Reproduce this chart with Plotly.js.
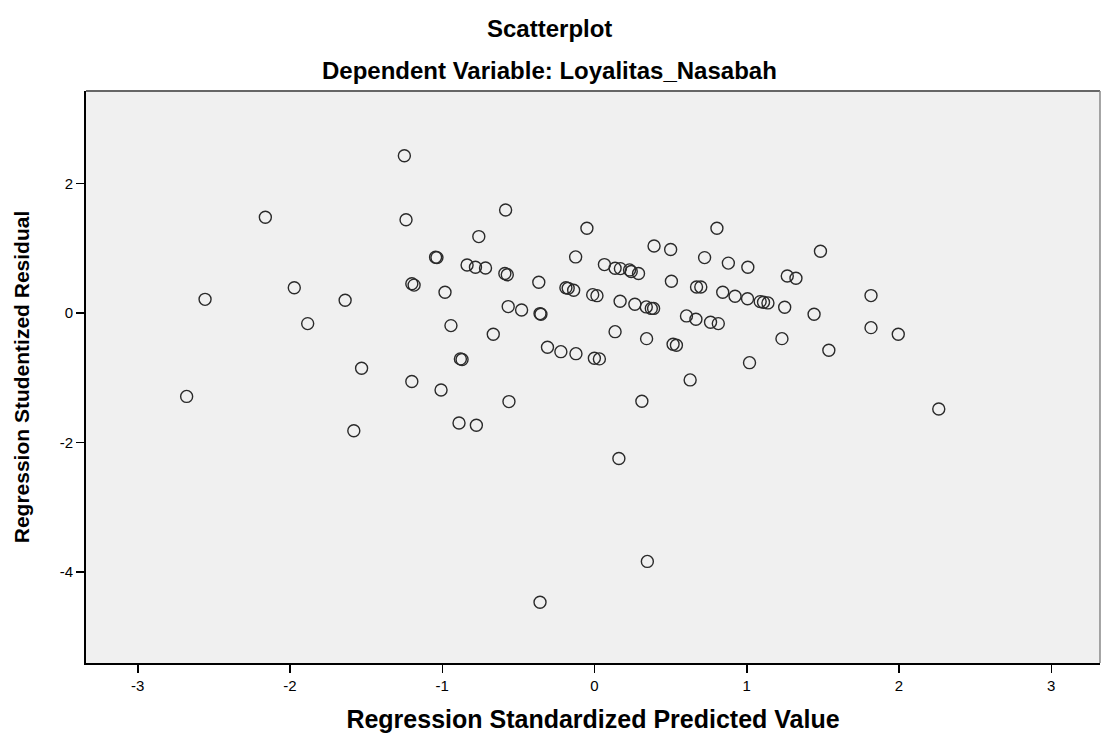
<!DOCTYPE html>
<html>
<head>
<meta charset="utf-8">
<script src="https://cdn.plot.ly/plotly-3.0.1.min.js"></script>
<style>
  html, body { margin: 0; padding: 0; background: #ffffff; }
  #chart { width: 1101px; height: 734px; }
</style>
</head>
<body>
<div id="chart"></div>
<script>
// Regression Standardized Predicted Value
const predicted = [
  -1.249, -2.162, -1.238, -1.044, -1.035, -1.200, -1.185, -0.982, -1.972, -2.558,
  -1.638, -1.884, -1.530, -1.200, -2.679, -1.581, -1.008, -0.584, -0.760, -0.050,
   0.804,  0.391,  0.500, -0.124,  0.723,  0.879,  1.007, -0.837, -0.782, -0.716,
  -0.589, -0.573,  0.065,  0.135,  0.170,  0.230,  0.241,  0.289,  0.505,  0.670,
   0.698,  0.842,  0.923,  1.005,  1.088,  1.110,  1.139, -0.366, -0.188, -0.173,
  -0.137, -0.012,  0.016,  0.168,  0.265,  0.340,  0.373,  0.388, -0.567, -0.479,
  -0.358, -0.352,  0.604,  0.666,  0.762,  0.813, -0.943, -0.665,  0.135,  0.342,
   0.516,  0.538, -0.881, -0.870, -0.309, -0.221, -0.122, -0.001,  0.032,  1.018,
   0.628, -0.562,  0.311, -0.890, -0.776,  0.160,  1.484,  1.266,  1.323,  1.249,
   1.816,  1.442,  1.816,  1.995,  1.231,  1.539,  2.261,  0.347, -0.358
];
// Regression Studentized Residual
const residual = [
   2.430,  1.480,  1.440,  0.860,  0.855,  0.450,  0.430,  0.320,  0.390,  0.210,
   0.196, -0.165, -0.855, -1.060, -1.290, -1.820, -1.190,  1.590,  1.180,  1.310,
   1.310,  1.035,  0.980,  0.866,  0.855,  0.770,  0.706,  0.740,  0.706,  0.695,
   0.610,  0.590,  0.747,  0.690,  0.685,  0.665,  0.640,  0.610,  0.490,  0.400,
   0.400,  0.320,  0.258,  0.220,  0.175,  0.165,  0.155,  0.474,  0.390,  0.380,
   0.350,  0.283,  0.267,  0.180,  0.134,  0.093,  0.070,  0.070,  0.098,  0.046,
  -0.010, -0.020, -0.046, -0.098, -0.144, -0.165, -0.196, -0.330, -0.289, -0.397,
  -0.484, -0.500, -0.710, -0.720, -0.530, -0.598, -0.629, -0.700, -0.710, -0.768,
  -1.035, -1.370, -1.365, -1.700, -1.736, -2.250,  0.953,  0.570,  0.536,  0.088,
   0.268, -0.020, -0.227, -0.330, -0.397, -0.577, -1.484, -3.840, -4.470
];
const xTicks = [-3, -2, -1, 0, 1, 2, 3];
const yTicks = [-4, -2, 0, 2];
const chartTitle = "Scatterplot";
const chartSubtitle = "Dependent Variable: Loyalitas_Nasabah";
const xTitle = "Regression Standardized Predicted Value";
const yTitle = "Regression Studentized Residual";

const font = "Liberation Sans, Arial, sans-serif";

const trace = {
  type: "scatter",
  mode: "markers",
  x: predicted,
  y: residual,
  marker: {
    symbol: "circle-open",
    size: 12,
    color: "#2a2a2a",
    line: { width: 1.4, color: "#2a2a2a" }
  },
  hoverinfo: "x+y",
  showlegend: false
};

const layout = {
  width: 1101,
  height: 734,
  margin: { l: 86, r: 1, t: 91, b: 71 },
  paper_bgcolor: "#ffffff",
  plot_bgcolor: "#f0f0f0",
  font: { family: font, color: "#000000", size: 15 },
  xaxis: {
    range: [-3.34, 3.32],
    tickvals: xTicks,
    ticktext: xTicks.map(String),
    ticks: "outside",
    ticklen: 8,
    tickwidth: 1.5,
    tickcolor: "#000000",
    showgrid: false,
    zeroline: false,
    showline: true,
    linecolor: "#000000",
    linewidth: 2,
    tickfont: { family: font, size: 15, color: "#000000" },
    title: {
      text: "<b>" + xTitle + "</b>",
      font: { family: font, size: 25, color: "#000000" },
      standoff: 17
    }
  },
  yaxis: {
    range: [-5.41, 3.43],
    tickvals: yTicks,
    ticktext: yTicks.map(String),
    ticks: "outside",
    ticklen: 8,
    tickwidth: 1.5,
    tickcolor: "#000000",
    showgrid: false,
    zeroline: false,
    showline: true,
    linecolor: "#000000",
    linewidth: 2,
    tickfont: { family: font, size: 15, color: "#000000" },
    title: {
      text: "<b>" + yTitle + "</b>",
      font: { family: font, size: 21, color: "#000000" },
      standoff: 24
    }
  },
  shapes: [
    { type: "line", xref: "paper", yref: "paper", x0: 0, x1: 1, y0: 1, y1: 1,
      line: { color: "#666666", width: 2 } },
    { type: "line", xref: "paper", yref: "paper", x0: 1, x1: 1, y0: 0, y1: 1,
      line: { color: "#888888", width: 1.5 } }
  ],
  annotations: [
    { text: "<b>" + chartTitle + "</b>", xref: "paper", yref: "paper",
      x: 0.457, y: 1, yanchor: "middle", yshift: 63, showarrow: false,
      font: { family: font, size: 24, color: "#000000" } },
    { text: "<b>" + chartSubtitle + "</b>", xref: "paper", yref: "paper",
      x: 0.457, y: 1, yanchor: "middle", yshift: 21, showarrow: false,
      font: { family: font, size: 24, color: "#000000" } }
  ]
};

Plotly.newPlot("chart", [trace], layout, { displayModeBar: false, staticPlot: true });
</script>
</body>
</html>
